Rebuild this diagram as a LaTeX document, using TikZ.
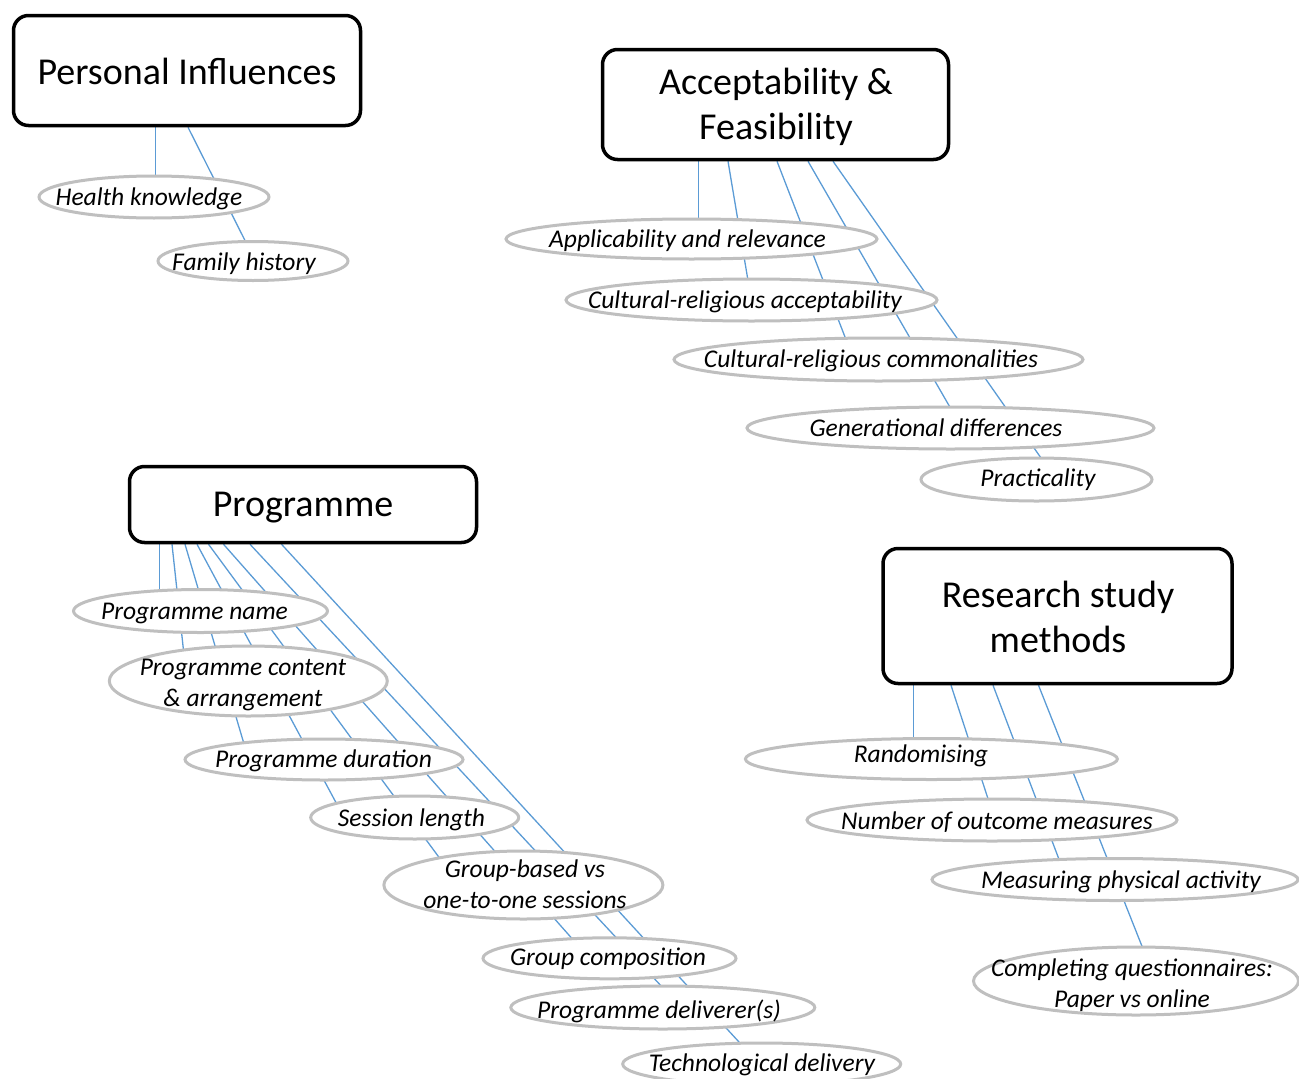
\documentclass[tikz,border=0pt]{standalone}
\usepackage{fontspec}
\setmainfont{Carlito}
\usetikzlibrary{shapes.geometric,backgrounds,calc}
\definecolor{linkblue}{HTML}{5B9BD5}
\definecolor{ovalgray}{HTML}{BFBFBF}
\begin{document}
\begin{tikzpicture}[x=1pt,y=-1pt,
  headbox/.style={draw=black, line width=3.5pt, rounded corners=15pt, fill=white, inner sep=0pt},
  headtext/.style={font=\fontsize{38}{45}\selectfont, align=center, inner sep=0pt, yshift=-2pt},
  oval/.style={ellipse, draw=ovalgray, line width=3pt, fill=white, inner sep=0pt},
  ovaltext/.style={font=\fontsize{25.5}{31}\selectfont\itshape, align=center, inner sep=0pt, yshift=-1.5pt},
  link/.style={draw=linkblue, line width=1.3pt, shorten >=-5pt}
]
\useasboundingbox (0,0) rectangle (1299,1079);

% ---------- Personal Influences ----------
\node[headbox, minimum width=347pt, minimum height=110pt] (pi) at (187,70.5) {};
\node[headtext] (pi-t) at (187,69.5) {Personal Influences};
\node[oval, minimum width=230pt, minimum height=42pt] (hk) at (154,197) {};
\node[ovaltext] (hk-t) at (149,197) {Health knowledge};
\node[oval, minimum width=190pt, minimum height=39pt] (fh) at (253,261) {};
\node[ovaltext] (fh-t) at (244,262) {Family history};

% ---------- Acceptability & Feasibility ----------
\node[headbox, minimum width=346pt, minimum height=110pt] (af) at (775.5,104.5) {};
\node[headtext] (af-t) at (776,105) {Acceptability \&\\Feasibility};
\node[oval, minimum width=371pt, minimum height=40pt] (app) at (691.5,239) {};
\node[ovaltext] (app-t) at (687.5,239) {Applicability and relevance};
\node[oval, minimum width=371pt, minimum height=42pt] (cra) at (751.5,300) {};
\node[ovaltext] (cra-t) at (745,300) {Cultural-religious acceptability};
\node[oval, minimum width=409pt, minimum height=43pt] (crc) at (878.5,359.5) {};
\node[ovaltext] (crc-t) at (871,359) {Cultural-religious commonalities};
\node[oval, minimum width=407pt, minimum height=42pt] (gen) at (950.5,428) {};
\node[ovaltext] (gen-t) at (936,426) {Generational differences};
\node[oval, minimum width=231pt, minimum height=43pt] (prac) at (1036.5,479.5) {};
\node[ovaltext] (prac-t) at (1038,478) {Practicality};

% ---------- Programme ----------
\node[headbox, minimum width=347pt, minimum height=76pt] (pg) at (303,504.5) {};
\node[headtext] (pg-t) at (303,506) {Programme};
\node[oval, minimum width=254pt, minimum height=43pt] (pname) at (200.5,611) {};
\node[ovaltext] (pname-t) at (194.5,612) {Programme name};
\node[oval, minimum width=278pt, minimum height=70pt] (pcont) at (248.3,681) {};
\node[ovaltext] (pcont-t) at (243,683.5) {Programme content\\\& arrangement};
\node[oval, minimum width=278pt, minimum height=41pt] (pdur) at (324,759.5) {};
\node[ovaltext] (pdur-t) at (323.5,759) {Programme duration};
\node[oval, minimum width=208pt, minimum height=43pt] (sess) at (414.7,817.5) {};
\node[ovaltext] (sess-t) at (411.5,818) {Session length};
\node[oval, minimum width=279pt, minimum height=68pt] (grp) at (523.4,885) {};
\node[ovaltext] (grp-t) at (525,882.5) {Group-based vs\\one-to-one sessions};
\node[oval, minimum width=253pt, minimum height=41pt] (comp) at (609.5,958.3) {};
\node[ovaltext] (comp-t) at (608,957) {Group composition};
\node[oval, minimum width=304pt, minimum height=43pt] (deliv) at (662.8,1007.5) {};
\node[ovaltext] (deliv-t) at (659,1010) {Programme deliverer(s)};
\node[oval, minimum width=278pt, minimum height=42pt] (tech) at (761.7,1064) {};
\node[ovaltext] (tech-t) at (762,1063) {Technological delivery};

% ---------- Research study methods ----------
\node[headbox, minimum width=349pt, minimum height=135pt] (rs) at (1057.5,616) {};
\node[headtext] (rs-t) at (1058,615) {Research study\\methods};
\node[oval, minimum width=372pt, minimum height=41pt] (rand) at (931.4,759) {};
\node[ovaltext] (rand-t) at (921,754) {Randomising};
\node[oval, minimum width=370pt, minimum height=42pt] (outc) at (992,820) {};
\node[ovaltext] (outc-t) at (997,821) {Number of outcome measures};
\node[oval, minimum width=366pt, minimum height=42pt] (meas) at (1115,879.5) {};
\node[ovaltext] (meas-t) at (1121,880) {Measuring physical activity};
\node[oval, minimum width=325pt, minimum height=68pt] (quest) at (1136,981) {};
\node[ovaltext] (quest-t) at (1132,984) {Completing questionnaires:\\Paper vs online};

% ---------- connectors, kept behind the ovals ----------
\begin{scope}[on background layer]
  \draw[link] ($(pi.south)+(-31.5,0)$) -- ($(hk.north)+(1.5,0)$);
  \draw[link] ($(pi.south)+(1,0)$) -- ($(fh.north)+(-8,0.5)$);

  \draw[link] ($(af.south)+(-77,0)$) -- ($(app.north)+(7,0)$);
  \draw[link] ($(af.south)+(-47.5,0)$) -- ($(cra.north)+(-4,0)$);
  \draw[link] ($(af.south)+(1.5,0)$) -- ($(crc.north)+(-33.5,0.5)$);
  \draw[link] ($(af.south)+(32.5,0)$) -- ($(gen.north)+(-1.5,0)$);
  \draw[link] ($(af.south)+(57.5,0)$) -- ($(prac.north)+(3.5,0)$);

  \draw[link] ($(pg.south)+(-143.5,0)$) -- ($(pname.north)+(-41,1.5)$);
  \draw[link] ($(pg.south)+(-131,0)$) -- ($(pcont.north)+(-65,4)$);
  \draw[link] ($(pg.south)+(-118,0)$) -- ($(pdur.north)+(-80.7,4)$);
  \draw[link] ($(pg.south)+(-106,0)$) -- ($(sess.north)+(-79,7.5)$);
  \draw[link] ($(pg.south)+(-94.5,0)$) -- ($(grp.north)+(-85,7)$);
  \draw[link] ($(pg.south)+(-79.5,0)$) -- ($(comp.north)+(-38.6,1)$);
  \draw[link] ($(pg.south)+(-53,0)$) -- ($(deliv.north)+(-3,0)$);
  \draw[link] ($(pg.south)+(-21.5,0)$) -- ($(tech.north)+(-22.7,0.5)$);

  \draw[link] ($(rs.south)+(-144,0)$) -- ($(rand.north)+(-17.9,0)$);
  \draw[link] ($(rs.south)+(-106.5,0)$) -- ($(outc.north)+(-4.4,0)$);
  \draw[link] ($(rs.south)+(-64.5,0)$) -- ($(meas.north)+(-56.5,1)$);
  \draw[link] ($(rs.south)+(-19,0)$) -- ($(quest.north)+(5.7,0)$);
\end{scope}
\end{tikzpicture}
\end{document}
